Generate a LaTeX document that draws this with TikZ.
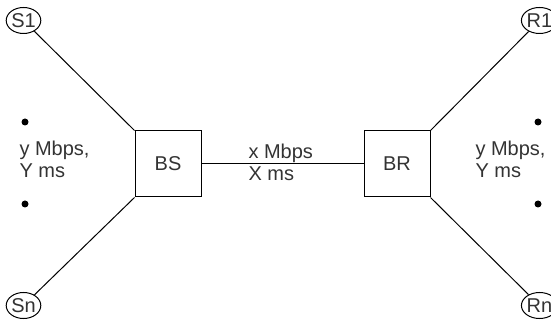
\documentclass[tikz,border=0pt]{standalone}
\usepackage{fontspec}
\setmainfont{Liberation Sans}
\usetikzlibrary{shapes.geometric}
\begin{document}
\begin{tikzpicture}[x=1pt,y=-1pt,font=\fontsize{20}{22}\selectfont,text=black!80]
      \useasboundingbox (0,0) rectangle (551,320);

      \begin{scope}[every node/.style={ellipse,draw,line width=1pt,inner sep=0pt,minimum width=33pt,minimum height=26pt}]
        \node (s1) at (23.5,20.5)  {S1};
        \node (sn) at (23.5,305.5) {Sn};
        \node (r1) at (539.5,20.5)  {R1};
        \node (rn) at (539.5,305.5) {Rn};
      \end{scope}

      \begin{scope}[every node/.style={rectangle,draw,line width=1pt,minimum size=66pt}]
        \node (bs) at (168,164) {BS};
        \node (br) at (397,164) {BR};
      \end{scope}

      \begin{scope}[every node/.style={anchor=west,align=left}]
        \node (ll) at (16,159) {y Mbps,\\Y ms};
        \node (lr) at (472,159) {y Mbps,\\Y ms};
        \node (lx) at (245,162) {x Mbps\\X ms};
      \end{scope}

      \begin{scope}[every node/.style={circle,fill=black,inner sep=0pt,minimum size=7pt}]
        \node (d1) at (25,122) {};
        \node (d2) at (25,204) {};
        \node (d3) at (538,122) {};
        \node (d4) at (538,204) {};
      \end{scope}

      \begin{scope}[every edge/.style={draw,line width=1pt}]
        \path (s1) edge (bs.north west);
        \path (sn) edge (bs.south west);
        \path (r1) edge (br.north east);
        \path (rn) edge (br.south east);
        \path (bs) edge (br);
      \end{scope}

    \end{tikzpicture}
\end{document}
